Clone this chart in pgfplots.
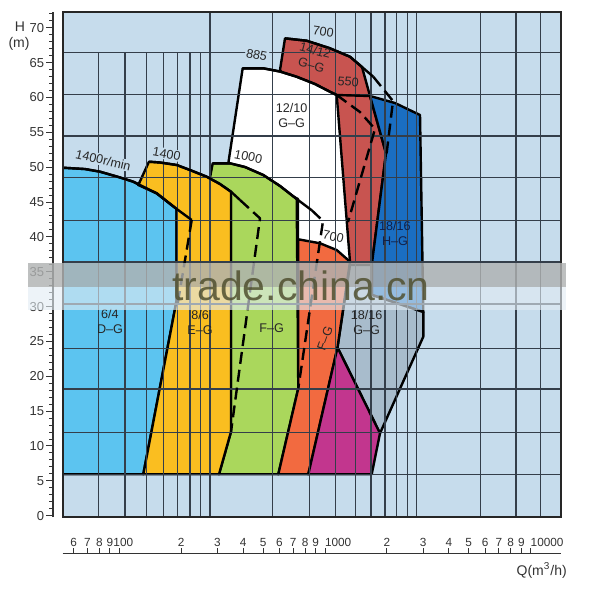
\documentclass[border=0pt]{standalone}
\usepackage{fontspec}
\setmainfont{Liberation Sans}
\usepackage{pgfplots}
\usepackage{pgfplotstable}
\pgfplotsset{compat=1.18}
\pgfplotsset{/pgf/number format/assume math mode=true}

\definecolor{bgblue}{RGB}{198,220,236}
\definecolor{cDG}{RGB}{92,196,240}
\definecolor{cEG}{RGB}{250,190,32}
\definecolor{cFG}{RGB}{170,215,92}
\definecolor{cRG}{RGB}{200,84,80}
\definecolor{cHG}{RGB}{26,110,194}
\definecolor{cGG}{RGB}{168,188,204}
\definecolor{cOR}{RGB}{242,106,64}
\definecolor{cMG}{RGB}{194,54,142}
\definecolor{gridc}{RGB}{52,62,74}
\definecolor{navy}{RGB}{16,32,74}
\definecolor{wmark}{RGB}{80,80,48}
\definecolor{bandtop}{RGB}{176,178,178}
\definecolor{bandlow}{RGB}{226,236,243}

% regions (Q in m3/h, H in m)
\pgfplotstableread{
Q H
53.07 5.94
53.07 49.92
68.1 49.73
80.6 49.35
100.8 48.52
117.0 47.91
152.0 46.25
190.1 44.00
190.1 30.94
130.8 5.94
}\tDG
\pgfplotstableread{
Q H
123.7 47.44
139.4 50.78
157.7 50.67
190.1 50.31
220.6 49.59
266.0 48.63
308.7 47.58
349.2 46.48
349.2 12.05
305.3 5.94
130.8 5.94
190.1 30.94
190.1 44.00
152.0 46.25
}\tEG
\pgfplotstableread{
Q H
284.5 50.55
345.3 50.55
408.4 50.02
501.3 48.87
604.3 47.30
728.6 45.43
741.6 18.28
592.9 5.94
305.3 5.94
349.2 12.05
349.2 45.86
273.9 47.99
}\tFG
\pgfplotstableread{
Q H
338.8 50.55
398.0 64.18
501.3 64.18
604.3 63.72
728.6 62.97
894.0 61.93
1057.6 60.82
1139.9 60.35
1322.9 36.39
739.2 36.39
739.2 45.43
}\tWG
\pgfplotstableread{
Q H
604.3 63.94
639.1 68.48
814.7 68.14
1057.6 67.05
1322.9 65.84
1513.1 64.37
1654.9 60.21
1979.5 51.99
1692.4 36.25
1692.4 35.54
1293.6 35.54
1057.6 52.42
}\tRG
\pgfplotstableread{
Q H
1654.9 60.21
2189.3 59.20
2896.7 57.48
3005.5 29.22
1692.4 31.66
1692.4 36.25
1979.5 51.99
}\tHG
\pgfplotstableread{
Q H
1322.9 35.96
1692.4 35.96
1692.4 31.66
3005.5 29.22
3005.5 25.68
1851.0 11.82
1150.2 24.13
}\tGG
\pgfplotstableread{
Q H
741.6 39.65
945.6 39.08
1139.9 38.11
1322.9 36.44
1150.2 24.13
829.5 5.94
592.9 5.94
741.6 18.28
}\tOR
\pgfplotstableread{
Q H
1150.2 24.13
1851.0 11.82
1686.7 5.94
829.5 5.94
}\tMG

\begin{document}
\begin{tikzpicture}[lab/.style={font=\fontsize{6.3}{7.5}\selectfont, text=black!85, inner sep=0.6pt, align=center}]
\useasboundingbox (0,0) rectangle (300pt,300pt);

\begin{axis}[at={(31.35pt,41.5pt)}, anchor=south west, scale only axis,
    width=249.15pt, height=252.5pt,
    xmode=log, xmin=53.07, xmax=14037, ymin=-0.19, ymax=72.26,
    xtick=\empty, ytick=\empty,
    axis background/.style={fill=bgblue},
    axis line style={black!85, line width=0.8pt}, axis on top,
    every axis plot/.append style={line join=round}]

% filled regions
\addplot[fill=cDG, draw=black, line width=1.2pt] table {\tDG} -- cycle;
\addplot[fill=cRG, draw=black, line width=1.2pt] table {\tRG} -- cycle;
\addplot[fill=white, draw=black, line width=1.2pt] table {\tWG} -- cycle;
\addplot[fill=cFG, draw=black, line width=1.2pt] table {\tFG} -- cycle;
\addplot[fill=cEG, draw=black, line width=1.2pt] table {\tEG} -- cycle;
\addplot[fill=cHG, draw=black, line width=1.2pt] table {\tHG} -- cycle;
\addplot[fill=cGG, draw=black, line width=1.2pt] table {\tGG} -- cycle;
\addplot[fill=cOR, draw=black, line width=1.2pt] table {\tOR} -- cycle;
\addplot[fill=cMG, draw=black, line width=1.2pt] table {\tMG} -- cycle;

% grid over the regions
\pgfplotsinvokeforeach{5.94,11.96,18.18,24.01,30.37,36.39,42.40,48.49,54.47,60.45,66.48}{
  \draw[gridc, line width=0.55pt] (axis cs:53.07,#1) -- (axis cs:14037,#1);}
\pgfplotsinvokeforeach{276.0,556.9,838.8,1127.1,1403.7,1673.5,1957.5,2231.1,2523.7,2791.2,5713.6,8482.7,11184}{
  \draw[gridc, line width=0.55pt] (axis cs:#1,-0.19) -- (axis cs:#1,72.26);}
\pgfplotsinvokeforeach{79.4,106.6,135.9,163.6,191.4,220.6,248.7}{
  \draw[gridc, line width=0.55pt] (axis cs:#1,-0.19) -- (axis cs:#1,66.48);}

% H-Q curves and limit lines
\addplot[black, line width=1.2pt] coordinates {(53.07,49.92) (68.1,49.73) (80.6,49.35) (100.8,48.52) (117.0,47.91) (152.0,46.25) (190.1,44.00) (224.9,42.42)};
\addplot[black, line width=1.2pt, dash pattern=on 6pt off 3pt] coordinates {(224.9,42.42) (191.8,30.22)};
\addplot[black, line width=1.2pt] coordinates {(139.4,50.78) (157.7,50.67) (190.1,50.31) (220.6,49.59) (266.0,48.63) (308.7,47.58) (349.2,46.48) (386.2,45.29)};
\addplot[black, line width=1.2pt, dash pattern=on 6pt off 3pt] coordinates {(386.2,45.29) (483.1,42.66) (349.2,12.05)};
\addplot[black, line width=1.2pt] coordinates {(284.5,50.55) (345.3,50.55) (408.4,50.02) (501.3,48.87) (604.3,47.30) (728.6,45.43) (861.7,43.82)};
\addplot[black, line width=1.2pt, dash pattern=on 6pt off 3pt] coordinates {(861.7,43.82) (977.9,42.28) (741.6,18.28)};
\addplot[black, line width=1.2pt] coordinates {(398.0,64.18) (501.3,64.18) (604.3,63.72) (728.6,62.97) (894.0,61.93) (1057.6,60.82) (1139.9,60.35)};
\addplot[black, line width=1.2pt, dash pattern=on 6pt off 3pt] coordinates {(1139.9,60.35) (1479.6,57.91) (1750,55.48) (1293.6,42.13)};
\addplot[black, line width=1.2pt] coordinates {(639.1,68.48) (814.7,68.14) (1057.6,67.05) (1322.9,65.84) (1513.1,64.37) (1717.2,62.97)};
\addplot[black, line width=1.2pt, dash pattern=on 6pt off 3pt] coordinates {(1717.2,62.97) (2140.8,59.49) (1979.5,51.27)};
\addplot[black, line width=1.2pt] coordinates {(1139.9,60.35) (1654.9,60.21)};

% labels
\node[lab, fill=bgblue, rotate=-13] at (axis cs:83.6,51.03) {1400r/min};
\node[lab, fill=bgblue, rotate=-10] at (axis cs:170,51.89) {1400};
\node[lab, fill=white, rotate=-12] at (axis cs:423.8,51.5) {1000};
\node[lab, fill=bgblue, rotate=-12] at (axis cs:465.6,66.09) {885};
\node[lab, rotate=-8] at (axis cs:981,69.43) {700};
\node[lab, rotate=-15] at (axis cs:877.3,65.73) {14/12\\G–G};
\node[lab, rotate=-5] at (axis cs:1297.9,62.26) {550};
\node[lab] at (axis cs:688.8,57.37) {12/10\\G–G};
\node[lab, rotate=-12] at (axis cs:1097.3,40.02) {700};
\node[lab, text=navy] at (axis cs:2189,40.51) {18/16\\H–G};
\node[lab] at (axis cs:90.1,27.83) {6/4\\D–G};
\node[lab] at (axis cs:246.8,27.67) {8/6\\E–G};
\node[lab] at (axis cs:550.7,26.88) {F–G};
\node[lab, rotate=70] at (axis cs:1000,25.4) {F–G};
\node[lab] at (axis cs:1594.9,27.71) {18/16\\G–G};
\end{axis}

% H ruler
\begin{axis}[at={(26.5pt,41.5pt)}, anchor=south west, scale only axis,
    width=5pt, height=252.5pt, xmin=0, xmax=1, ymin=-0.19, ymax=72.26,
    hide x axis, axis y line=left, axis line style={-, black!80, line width=0.6pt},
    ytick={0,5,...,70}, minor ytick={0,1,...,72},
    tick align=outside, major tick length=3.3pt, minor tick length=2pt,
    every tick/.style={black!80, line width=0.5pt},
    yticklabel style={font=\fontsize{6.5}{7}\selectfont, text=black!80, inner sep=1pt}]
\end{axis}

% Q ruler
\begin{axis}[at={(31.35pt,23.35pt)}, anchor=north west, scale only axis,
    width=249.15pt, height=2pt, xmode=log, xmin=53.07, xmax=14037, ymin=0, ymax=1,
    hide y axis, axis x line=top, axis line style={-, black!80, line width=0.6pt},
    xtick={60,70,80,90,100,200,300,400,500,600,700,800,900,1000,2000,3000,4000,5000,6000,7000,8000,9000,10000},
    xticklabels={6,7,8,9,\hspace*{4pt}100,2,3,4,5,6,7,8,9,\rlap{1000},2,3,4,5,6,7,8,9,\rlap{10000}},
    minor xtick={}, tick align=outside, major tick length=2.5pt,
    every tick/.style={black!80, line width=0.5pt},
    xticklabel style={font=\fontsize{5.9}{7}\selectfont, text=black!80, inner sep=0.8pt}]
\end{axis}

\node[font=\fontsize{7}{8}\selectfont, text=black!80] at (270.85pt,15pt) {Q(m\textsuperscript{3}/h)};
\node[font=\fontsize{7}{8}\selectfont, text=black!80] at (10pt,286.6pt) {H};
\node[font=\fontsize{7}{8}\selectfont, text=black!80] at (9.5pt,278.3pt) {(m)};

% watermark band
\fill[bandtop, opacity=0.82] (14pt,156.5pt) rectangle (283pt,168.5pt);
\fill[bandlow, opacity=0.62] (14pt,145pt) rectangle (283pt,156.5pt);
\node[font=\fontsize{20.5}{22}\selectfont, text=wmark, opacity=0.85, anchor=base] at (150.5pt,149.5pt) {trade.china.cn};
\end{tikzpicture}
\end{document}
